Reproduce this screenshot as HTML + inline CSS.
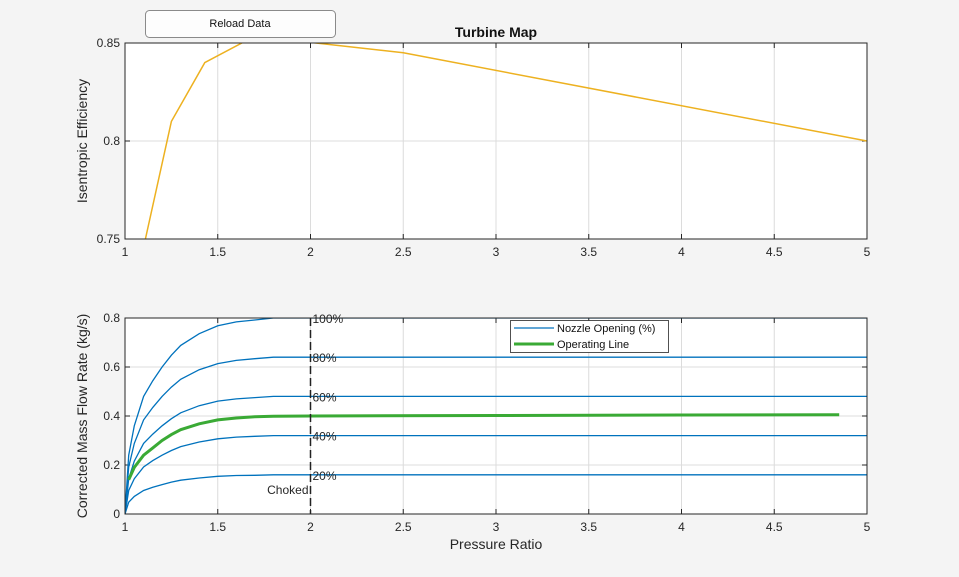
<!DOCTYPE html>
<html><head><meta charset="utf-8"><style>
body{margin:0;background:#f4f4f4;font-family:"Liberation Sans",Arial,sans-serif;}
svg{display:block}
</style></head><body>
<svg width="959" height="577" viewBox="0 0 959 577">
<rect x="0" y="0" width="959" height="577" fill="#f4f4f4"/>
<g>
<rect x="145.5" y="10.5" width="190" height="27" rx="4" fill="#fdfdfd" stroke="#8a8a8a"/>
<text x="240" y="27" font-size="11" text-anchor="middle" fill="#111">Reload Data</text>
</g>
<g id="topChart"></g>
<g id="botChart"></g>
</svg>
<script>
const effPR=[1.11,1.25,1.43,1.65,1.8,2.0,2.5,5];
const effVal=[0.75,0.81,0.84,0.851,0.86,0.8503,0.845,0.80];
const topXTicks=[1,1.5,2,2.5,3,3.5,4,4.5,5];
const topXTickLabels=["1","1.5","2","2.5","3","3.5","4","4.5","5"];
const topYTicks=[0.75,0.8,0.85];
const topYTickLabels=["0.75","0.8","0.85"];
const flowPR=[1,1.02,1.05,1.1,1.15,1.2,1.25,1.3,1.4,1.5,1.6,1.7,1.8,2,5];
const flow100=[0,0.24,0.36,0.48,0.544,0.6,0.648,0.688,0.736,0.768,0.784,0.792,0.8,0.8,0.8];
const flow80=[0,0.192,0.288,0.384,0.435,0.48,0.518,0.55,0.589,0.614,0.627,0.634,0.64,0.64,0.64];
const flow60=[0,0.144,0.216,0.288,0.326,0.36,0.389,0.413,0.442,0.461,0.47,0.475,0.48,0.48,0.48];
const flow40=[0,0.096,0.144,0.192,0.218,0.24,0.259,0.275,0.294,0.307,0.314,0.317,0.32,0.32,0.32];
const flow20=[0,0.048,0.072,0.096,0.109,0.12,0.13,0.138,0.147,0.154,0.157,0.158,0.16,0.16,0.16];
const openingLabels=["100%","80%","60%","40%","20%"];
const opPR=[1.02,1.05,1.1,1.15,1.2,1.25,1.3,1.4,1.5,1.6,1.7,1.8,2,3,4,4.85];
const opFlow=[0.14,0.19,0.24,0.27,0.3,0.324,0.344,0.368,0.384,0.392,0.397,0.399,0.4,0.402,0.404,0.405];
const chokePR=2;
const botYTicks=[0,0.2,0.4,0.6,0.8];
const botYTickLabels=["0","0.2","0.4","0.6","0.8"];

const NS="http://www.w3.org/2000/svg";
function mk(p,tag,at,txt){const e=document.createElementNS(NS,tag);for(const k in at)e.setAttribute(k,at[k]);if(txt!==undefined)e.textContent=txt;p.appendChild(e);return e;}
const X0=125,X1=867;
const sx=v=>X0+(v-1)/(5-1)*(X1-X0);

function axes(g,yt,ylab,sy,Y0,Y1,idp){
  const cp=mk(g,'clipPath',{id:idp});mk(cp,'rect',{x:X0,y:Y0,width:X1-X0,height:Y1-Y0});
  const bg=mk(g,'rect',{x:X0,y:Y0,width:X1-X0,height:Y1-Y0,fill:'#fff'});
  
  
  topXTicks.forEach((t,i)=>{const x=sx(t);
    const gl=mk(g,'line',{x1:x,x2:x,y1:Y0,y2:Y1,stroke:'#dcdcdc'});
    
    
    mk(g,'line',{x1:x,x2:x,y1:Y1,y2:Y1-5,stroke:'#262626'});mk(g,'line',{x1:x,x2:x,y1:Y0,y2:Y0+5,stroke:'#262626'});
    const tl=mk(g,'text',{x:x,y:Y1+17,'font-size':12,'text-anchor':'middle',fill:'#262626'},topXTickLabels[i]);
    
    });
  yt.ticks.forEach((t,i)=>{const y=sy(t);
    const gl=mk(g,'line',{x1:X0,x2:X1,y1:y,y2:y,stroke:'#dcdcdc'});
    
    
    mk(g,'line',{x1:X0,x2:X0+5,y1:y,y2:y,stroke:'#262626'});mk(g,'line',{x1:X1,x2:X1-5,y1:y,y2:y,stroke:'#262626'});
    const tl=mk(g,'text',{x:X0-5,y:y+4,'font-size':12,'text-anchor':'end',fill:'#262626'},yt.labels[i]);
    
    });
  const yl=mk(g,'text',{x:0,y:0,'font-size':14,'text-anchor':'middle',fill:'#262626',transform:`translate(${X0-38},${(Y0+Y1)/2}) rotate(-90)`},ylab);
  
  
}
function frame(g,Y0,Y1){mk(g,'rect',{x:X0,y:Y0,width:X1-X0,height:Y1-Y0,fill:'none',stroke:'#262626'});}
function pts(xs,ys,sy){return xs.map((x,i)=>sx(x).toFixed(1)+','+sy(ys[i]).toFixed(1)).join(' ');}

// top chart
const topG=document.getElementById('topChart');
const TY0=43,TY1=239;const tsy=v=>TY1-(v-0.75)/(0.1)*(TY1-TY0);
axes(topG,{ticks:topYTicks,labels:topYTickLabels},'Isentropic Efficiency',tsy,TY0,TY1,'ct');
const el=mk(topG,'polyline',{points:pts(effPR,effVal,tsy),fill:'none',stroke:'#edb120','stroke-width':1.5,'clip-path':'url(#ct)'});


frame(topG,TY0,TY1);
const tt=mk(topG,'text',{x:496,y:37,'font-size':14,'font-weight':'bold','text-anchor':'middle',fill:'#111'},'Turbine Map');



// bottom chart
const botG=document.getElementById('botChart');
const BY0=318,BY1=514;const bsy=v=>BY1-v/0.8*(BY1-BY0);
axes(botG,{ticks:botYTicks,labels:botYTickLabels},'Corrected Mass Flow Rate (kg/s)',bsy,BY0,BY1,'cb');
[flow100,flow80,flow60,flow40,flow20].forEach((s,i)=>{
  const l=mk(botG,'polyline',{points:pts(flowPR,s,bsy),fill:'none',stroke:'#0072bd','stroke-width':1.3,'clip-path':'url(#cb)'});
  
  
  const t=mk(botG,'text',{x:sx(chokePR)+2,y:bsy(s[s.length-1])+5,'font-size':12,fill:'#262626'},openingLabels[i]);
  
  
});
const op=mk(botG,'polyline',{points:pts(opPR,opFlow,bsy),fill:'none',stroke:'#3aaa35','stroke-width':3,'clip-path':'url(#cb)'});


const ch=mk(botG,'line',{x1:sx(chokePR),x2:sx(chokePR),y1:BY0,y2:BY1,stroke:'#222','stroke-width':1.5,'stroke-dasharray':'8,4'});


const ct=mk(botG,'text',{x:sx(chokePR)-2,y:494,'font-size':12,'text-anchor':'end',fill:'#262626'},'Choked');


frame(botG,BY0,BY1);
const xl=mk(botG,'text',{x:496,y:549,'font-size':14,'text-anchor':'middle',fill:'#262626'},'Pressure Ratio');


// legend
const lg=mk(botG,'g',{});


mk(lg,'rect',{x:510.5,y:320.5,width:158,height:32,fill:'#fff',stroke:'#262626','stroke-width':0.8});
const e1=mk(lg,'g',{});


mk(e1,'line',{x1:514,x2:554,y1:328,y2:328,stroke:'#0072bd','stroke-width':1.3});
mk(e1,'text',{x:557,y:332,'font-size':11,fill:'#111'},'Nozzle Opening (%)');
const e2=mk(lg,'g',{});


mk(e2,'line',{x1:514,x2:554,y1:344,y2:344,stroke:'#3aaa35','stroke-width':3});
mk(e2,'text',{x:557,y:348,'font-size':11,fill:'#111'},'Operating Line');
</script>
</body></html>
